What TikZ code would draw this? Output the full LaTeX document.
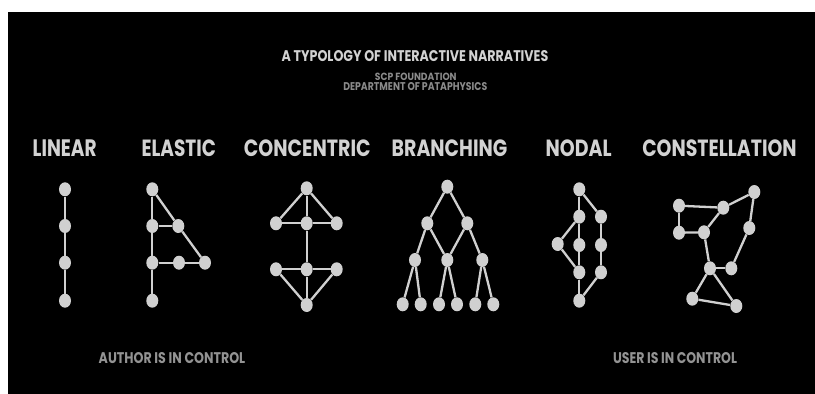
\documentclass[tikz,border=0pt]{standalone}
\usepackage{fontspec}
\usepackage{graphicx}
\usetikzlibrary{shapes.geometric}
\newfontfamily\poppins{Poppins}
\definecolor{nodegray}{HTML}{D0D0D0}
\definecolor{titlegray}{HTML}{D2D2D2}
\definecolor{subgray}{HTML}{8A8A8A}
\definecolor{footgray}{HTML}{939393}
% text squeezed to the measured width and cap height
\newcommand{\fitlabel}[3]{\resizebox{#1}{#2}{\poppins\bfseries #3}}
\tikzset{
  dot/.style={ellipse,fill=nodegray,minimum width=12pt,minimum height=14pt,inner sep=0pt},
  link/.style={draw=nodegray,line width=2.3pt},
  label text/.style={inner sep=0pt,text=titlegray}
}
\begin{document}
\begin{tikzpicture}[x=1pt,y=-1pt]
\useasboundingbox (0,0) rectangle (815,394);
\fill[white] (0,0) rectangle (815,394);
\fill[black] (8,12) rectangle (815,394);
% headings
\node[label text] (title) at (415,56.2) {\fitlabel{266.7pt}{11pt}{A TYPOLOGY OF INTERACTIVE NARRATIVES}};
\node[label text,text=subgray] (scp) at (415.8,77) {\fitlabel{81.7pt}{7.4pt}{SCP FOUNDATION}};
\node[label text,text=subgray] (dept) at (415.3,86.7) {\fitlabel{144pt}{8pt}{DEPARTMENT OF PATAPHYSICS}};
\node[label text] (h-linear) at (64.7,148.3) {\fitlabel{64pt}{16.7pt}{LINEAR}};
\node[label text] (h-elastic) at (178.8,148.3) {\fitlabel{74.3pt}{16.7pt}{ELASTIC}};
\node[label text] (h-concentric) at (307.3,148.3) {\fitlabel{126.7pt}{16.7pt}{CONCENTRIC}};
\node[label text] (h-branching) at (449.5,148.3) {\fitlabel{115.6pt}{16.7pt}{BRANCHING}};
\node[label text] (h-nodal) at (578.7,148.3) {\fitlabel{66pt}{16.7pt}{NODAL}};
\node[label text] (h-constellation) at (719.5,148.3) {\fitlabel{154.4pt}{16.7pt}{CONSTELLATION}};
\node[label text,text=footgray] (author) at (172,358) {\fitlabel{146.5pt}{11pt}{AUTHOR IS IN CONTROL}};
\node[label text,text=footgray] (user) at (675,358) {\fitlabel{124pt}{11pt}{USER IS IN CONTROL}};
% linear
\foreach \i/\y in {1/189.3,2/226,3/262.7,4/300.7}
  \node[dot] (l\i) at (65,\y) {};
\foreach \a/\b in {l1/l2,l2/l3,l3/l4}
  \draw[link] (\a) -- (\b);
% elastic
\foreach \i/\x/\y in {1/152.3/189.3,2/152.3/226,3/152.3/262.7,4/152.3/300.7,5/178.3/226,6/179/262.7,7/205/262.7}
  \node[dot] (e\i) at (\x,\y) {};
\foreach \a/\b in {e1/e2,e2/e3,e3/e4,e1/e5,e2/e5,e5/e7,e3/e6,e6/e7}
  \draw[link] (\a) -- (\b);
% concentric
\foreach \i/\x/\y in {1/306.7/188.3,2/276/223.3,3/306.7/223.3,4/336.7/223.3,5/276/269.3,6/306.7/269.3,7/336.7/269.3,8/306.7/305}
  \node[dot] (c\i) at (\x,\y) {};
\foreach \a/\b in {c1/c2,c1/c3,c1/c4,c2/c3,c3/c4,c3/c6,c5/c6,c6/c7,c5/c8,c6/c8,c7/c8}
  \draw[link] (\a) -- (\b);
% branching
\foreach \i/\x/\y in {1/447.3/186.7,2/427.3/223.3,3/467.3/223.3,4/415/260,5/447.3/260,6/482.3/260,
  7/402.7/304.3,8/420.7/304.3,9/439/304.3,10/457/304.3,11/475.3/304.3,12/493.3/304.3}
  \node[dot] (b\i) at (\x,\y) {};
\foreach \a/\b in {b1/b2,b1/b3,b2/b4,b2/b5,b3/b5,b3/b6,b4/b7,b4/b8,b5/b9,b5/b10,b6/b11,b6/b12}
  \draw[link] (\a) -- (\b);
% nodal
\foreach \i/\x/\y in {1/579.3/189.3,2/579.3/216.7,3/601/216.7,4/557.7/244,5/579.3/245,6/601/245,7/579.3/272.3,8/601/272.3,9/579.3/300.7}
  \node[dot] (n\i) at (\x,\y) {};
\foreach \a/\b in {n1/n2,n1/n3,n2/n5,n5/n7,n7/n9,n3/n6,n6/n8,n8/n9,n4/n2,n4/n7}
  \draw[link] (\a) -- (\b);
% constellation
\foreach \i/\x/\y in {a/679/205.7,b/723.3/207.7,c/754.3/192,d/679/232.7,e/704/232.3,f/749.3/228,g/710/268.3,h/731.3/268.3,i/692.3/298.7,j/736.3/306}
  \node[dot] (s\i) at (\x,\y) {};
\foreach \a/\b in {sa/sb,sb/sc,sa/sd,sd/se,se/sb,sc/sf,sf/sh,se/sg,sg/sh,sg/si,sg/sj,si/sj}
  \draw[link] (\a) -- (\b);
\end{tikzpicture}
\end{document}
